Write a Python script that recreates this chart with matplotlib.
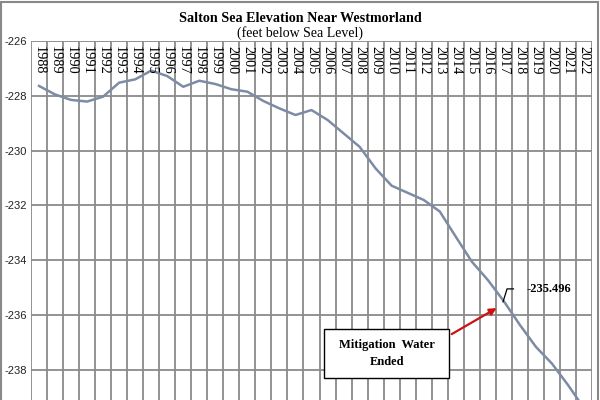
import matplotlib
matplotlib.use("Agg")
import matplotlib.pyplot as plt
import numpy as np
from matplotlib.transforms import blended_transform_factory
from matplotlib.patches import Rectangle

years = list(range(1988, 2023))
elev = [-227.64, -227.95, -228.15, -228.21, -228.03, -227.52, -227.40, -227.08,
        -227.28, -227.67, -227.45, -227.57, -227.76, -227.85, -228.19, -228.46,
        -228.70, -228.52, -228.88, -229.37, -229.86, -230.65, -231.28, -231.54,
        -231.80, -232.22, -233.14, -234.05, -234.72, -235.496, -236.36, -237.16,
        -237.77, -238.55, -239.40]
yticks = [-226, -228, -230, -232, -234, -236, -238]
annot_year = 2017
annot_label = "-235.496"

fig = plt.figure(figsize=(6, 4), dpi=100)
ax = fig.add_axes([31/600, 0.0, 561/600, 1 - 41/400])

x = np.arange(len(years))
ax.set_xlim(-0.5, len(years) - 0.5)
ax.set_ylim(-239.10, -226)

grid_c = "#8a8a8a"
for b in np.arange(-0.5, len(years), 1.0):
    ax.axvline(b, color=grid_c, lw=1.3, zorder=1)
for t in yticks:
    ax.axhline(t, color=grid_c, lw=1.3, zorder=1)

ax.plot(x, elev, color="#7d8ca5", lw=1.8, zorder=3, clip_on=True)

for s in ax.spines.values():
    s.set_visible(False)
ax.set_xticks([])
ax.set_yticks(yticks)
ax.set_yticklabels([str(t) for t in yticks], fontsize=8, family="Liberation Sans",
                   color="#222222")
ax.tick_params(axis="y", length=0, pad=3)

trans = blended_transform_factory(ax.transData, ax.transAxes)
for i, yr in enumerate(years):
    ax.text(i + 0.02, 0.985, str(yr), rotation=-90, ha="center", va="top",
            fontsize=10.3, family="Liberation Serif", transform=trans, zorder=4)

fig.text(300/600, 1 - 18/400, "Salton Sea Elevation Near Westmorland",
         ha="center", va="center", fontsize=10.2, fontweight="bold", family="Liberation Serif")
fig.text(300/600, 1 - 33.5/400, "(feet below Sea Level)",
         ha="center", va="center", fontsize=10, family="Liberation Serif")

# annotation
ai = years.index(annot_year)
av = elev[ai]
ax.plot([ai - 0.05, ai + 0.2, ai + 0.6], [av - 0.02, av + 0.45, av + 0.45],
        color="black", lw=0.9, zorder=4)
ax.text(ai + 1.4, av + 0.45, annot_label, ha="left", va="center",
        fontsize=9, fontweight="bold", family="Liberation Serif", zorder=4)

# box
box_x0, box_x1 = 17.8, 25.6
box_y0, box_y1 = -238.3, -236.5
ax.add_patch(Rectangle((box_x0, box_y0), box_x1 - box_x0, box_y1 - box_y0,
                       facecolor="white", edgecolor="black", lw=1.0, zorder=5))
ax.text((box_x0 + box_x1) / 2, (box_y0 + box_y1) / 2, "Mitigation  Water\nEnded",
        ha="center", va="center", fontsize=9, fontweight="bold",
        family="Liberation Serif", linespacing=1.6, zorder=6)
ax.annotate("", xy=(ai - 0.3, av - 0.2), xytext=(box_x1, av - 1.25),
            arrowprops=dict(arrowstyle="-|>", color="#cc1111", lw=1.6,
                            mutation_scale=10), zorder=6)

fig.patches.append(Rectangle((0.002, -0.01), 0.994, 1.006, transform=fig.transFigure,
                             fill=False, edgecolor="#888888", lw=1.5))

fig.savefig("out.png", dpi=100)
